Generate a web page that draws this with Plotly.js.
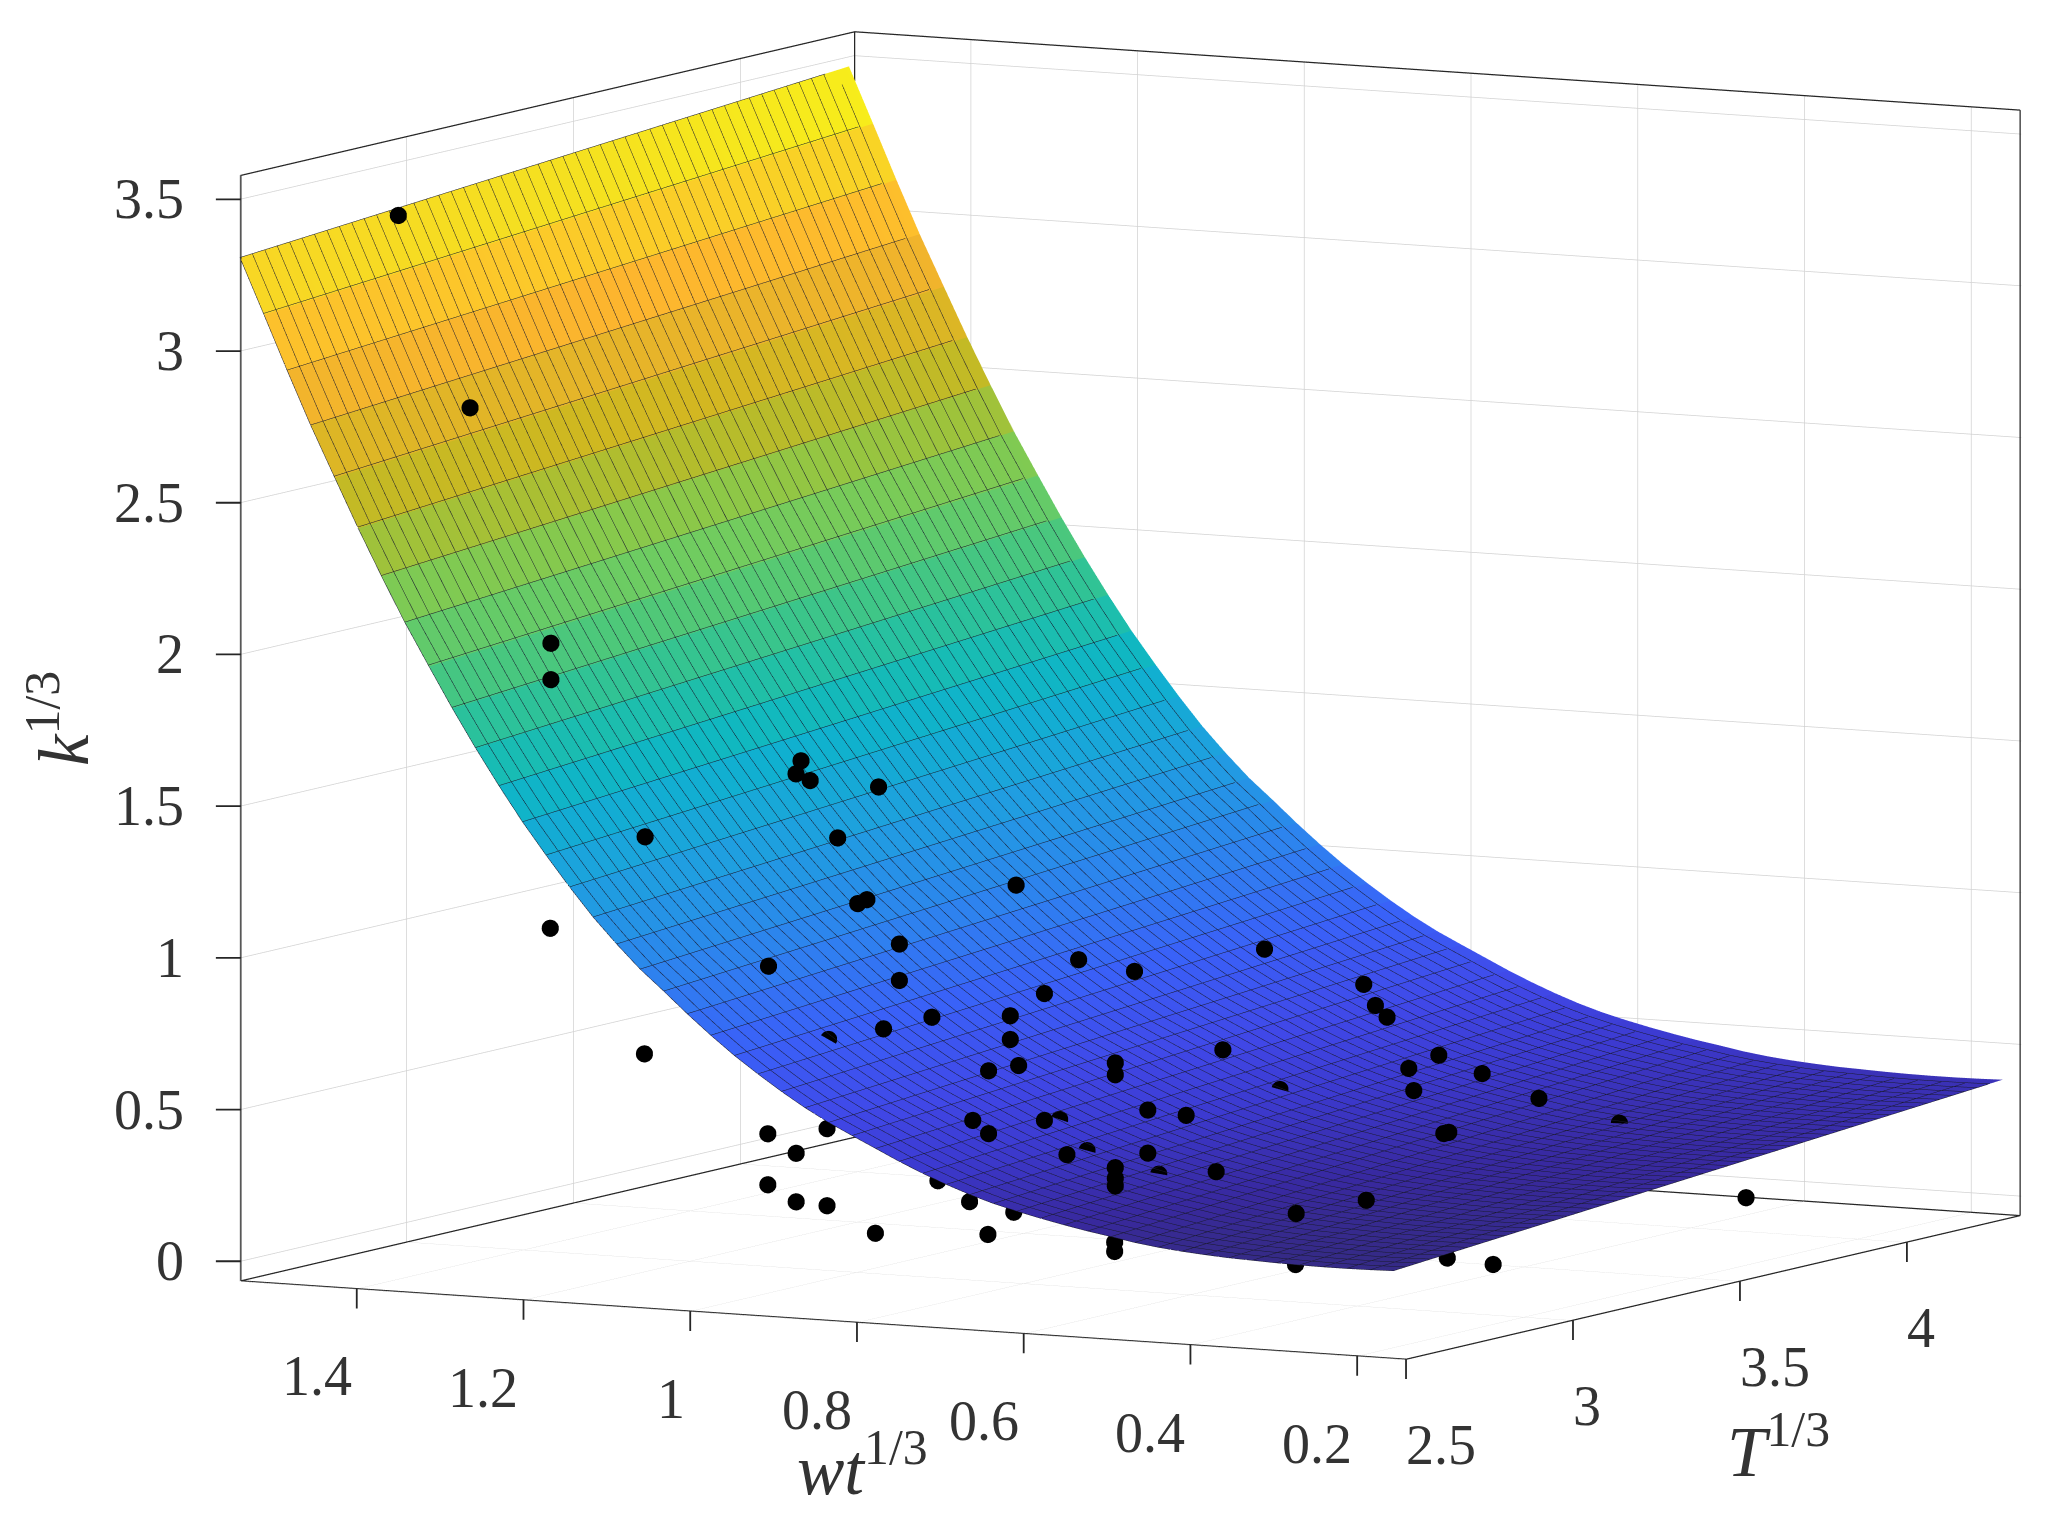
<!DOCTYPE html>
<html>
<head>
<meta charset="utf-8">
<script src="https://cdn.plot.ly/plotly-3.0.1.min.js"></script>
<style>body{margin:0;background:#fff}#chart{width:2048px;height:1525px}</style>
</head>
<body>
<div id="chart"></div>
<script>
// surface, one row per wt^(1/3) mesh line
const surfWt = [0.156,0.184,0.212,0.241,0.269,0.297,0.325,0.354,0.382,0.410,0.438,0.467,0.495,0.523,0.551,0.580,0.608,0.636,0.664,0.693,0.721,0.749,0.777,0.805,0.834,0.862,0.890,0.918,0.947,0.975,1.003,1.031,1.060,1.088,1.116,1.144,1.172,1.201,1.229,1.257,1.285,1.313,1.342,1.370,1.398,1.426,1.455,1.483,1.511,1.540];
const surfKLowT = [0.225,0.223,0.222,0.222,0.223,0.225,0.228,0.231,0.236,0.242,0.250,0.261,0.275,0.288,0.303,0.320,0.338,0.358,0.382,0.411,0.442,0.476,0.513,0.550,0.589,0.632,0.680,0.732,0.789,0.850,0.915,0.984,1.053,1.130,1.213,1.306,1.405,1.512,1.625,1.744,1.870,2.003,2.143,2.290,2.443,2.604,2.772,2.946,3.126,3.310];
const surfKHighT = [0.385,0.383,0.382,0.382,0.383,0.385,0.388,0.391,0.396,0.402,0.410,0.421,0.435,0.448,0.463,0.480,0.498,0.518,0.542,0.571,0.602,0.636,0.673,0.710,0.749,0.792,0.840,0.892,0.949,1.010,1.075,1.144,1.213,1.290,1.373,1.466,1.565,1.672,1.785,1.904,2.030,2.163,2.303,2.450,2.603,2.764,2.932,3.106,3.286,3.470];
const surfT = [2.5, 4.324];

// measured points
const ptT = [2.6,2.6,2.6,2.6,2.6,3.0,3.0,2.6,2.6,2.6,2.6,2.6,2.6,2.6,2.6,2.6,2.6,2.6,2.6,2.6,2.6,2.6,2.6,2.6,2.6,2.6,2.6,2.6,2.6,2.6,2.7,2.6,2.8,2.6,2.6,2.6,2.6,2.6,2.95,2.6,2.6,2.6,2.6,2.6,2.7,2.7,2.6,2.6,2.6,2.6,2.6,2.6,2.6,2.6,3.0,3.0,3.0,3.0,3.0,3.0,3.0,3.0,3.0,3.0,3.0,3.0,3.0,3.0,3.0,3.0,3.7,2.745,2.95,2.88,2.89,3.46,3.75];
const ptWt = [1.390,1.304,1.207,1.207,1.094,1.368,1.255,0.907,0.913,0.896,0.814,0.863,0.839,0.828,0.649,0.789,0.946,0.789,0.574,0.507,0.351,0.750,0.808,0.656,0.615,0.232,0.218,0.204,0.656,0.401,0.182,0.178,0.170,0.682,0.646,0.530,0.530,0.172,0.162,0.491,0.445,0.701,0.682,0.615,0.176,0.170,0.588,0.491,0.530,0.530,0.530,0.409,0.229,0.313,1.107,1.036,1.073,1.107,1.073,1.036,0.978,0.843,0.865,0.903,0.812,0.691,0.691,0.474,0.292,0.237,0.214,0.932,0.737,0.676,0.594,0.677,0.386];
const ptK = [3.450,2.832,2.074,1.954,1.457,1.002,0.609,1.742,1.698,1.679,1.673,1.496,1.284,1.299,1.380,1.160,1.058,1.040,1.148,1.122,1.224,0.926,0.877,0.948,1.029,1.130,1.063,1.027,0.870,0.883,0.880,0.863,0.796,0.762,0.786,0.816,0.777,0.791,0.677,0.668,0.659,0.595,0.555,0.611,0.623,0.628,0.503,0.526,0.471,0.436,0.411,0.480,0.419,0.360,0.373,0.403,0.315,0.205,0.155,0.149,0.069,0.090,0.194,0.256,0.169,0.092,0.062,0.059,0.114,0.103,0.147,0.782,0.502,0.428,0.363,0.480,0.348];

const rangeT = [2.5, 4.34];
const rangeWt = [0.14, 1.54];
const rangeK = [-0.065, 3.58];
const tickT = [2.5,3,3.5,4];
const tickWt = [0.2,0.4,0.6,0.8,1,1.2,1.4];
const tickK = [0,0.5,1,1.5,2,2.5,3,3.5];

// parula as it comes out in the picture
const parula = [[0,"#352a87"],[0.023,"#38299f"],[0.07,"#3c3ad0"],[0.115,"#4048e8"],[0.177,"#3a60f8"],[0.24,"#2f80f0"],[0.33,"#1f9fe0"],[0.40,"#10b0d0"],[0.433,"#10b8c0"],[0.47,"#20bfa8"],[0.507,"#35c490"],[0.547,"#50c878"],[0.593,"#70cc60"],[0.64,"#8cc848"],[0.686,"#b4bc2c"],[0.73,"#d0b820"],[0.787,"#e8b42a"],[0.84,"#fdb52e"],[0.886,"#fcc82a"],[0.948,"#f5e020"],[1,"#f9fb15"]];

// each mesh row gets a flat colour, so every row is doubled with a tiny gap
const y = [], zRows = [], colorRows = [];
surfWt.forEach((w,i) => {
  if (i === surfWt.length-1) return;
  const w2 = surfWt[i+1];
  y.push(w, w2-0.0002);
  const lo2 = surfKLowT[i+1], hi2 = surfKHighT[i+1];
  zRows.push([surfKLowT[i],surfKHighT[i]], [lo2-(lo2-surfKLowT[i])*0.007, hi2-(hi2-surfKHighT[i])*0.007]);
  const c = [(surfKLowT[i]+lo2)/2, (surfKHighT[i]+hi2)/2];
  colorRows.push(c, c);
});

const surface = {
  type:"surface", x:surfT, y:y, z:zRows, surfacecolor:colorRows,
  colorscale:parula, cmin:0.225, cmax:3.47, showscale:false, hoverinfo:"skip",
  lighting:{ambient:1,diffuse:0,specular:0,roughness:1,fresnel:0},
  contours:{
    x:{show:true,start:2.5,end:4.33,size:0.0372,color:"rgb(25,25,45)",width:1},
    y:{show:true,start:0.156,end:1.54,size:0.02824,color:"rgb(25,25,45)",width:1},
    z:{show:false}
  }
};

const points = {
  type:"scatter3d", mode:"markers", x:ptT, y:ptWt, z:ptK,
  marker:{size:10,color:"#000",line:{width:0}}, hoverinfo:"skip"
};

// box edges MATLAB draws with box on, pulled in a hair or the scene clips them
const inset = 0.001;
const t0 = rangeT[0]+inset, t1 = rangeT[1]-inset;
const w0 = rangeWt[0]+inset, w1 = rangeWt[1]-inset;
const k0 = rangeK[0]+inset, k1 = rangeK[1]-inset;
const frame = {
  type:"scatter3d", mode:"lines", hoverinfo:"skip",
  x:[t0,t0,t1,null,t0,t1,t1,null,t0,t0,t1,t1,null,t1,t1,null,t1,t1],
  y:[w1,w0,w0,null,w1,w1,w0,null,w1,w1,w1,w0,null,w0,w0,null,w1,w1],
  z:[k0,k0,k0,null,k0,k0,k0,null,k0,k1,k1,k1,null,k0,k1,null,k0,k1],
  line:{color:"#262626",width:2.5}
};

function axis(range, ticks){
  return {
    range:range, autorange:false, tickmode:"array", tickvals:ticks,
    showgrid:true, gridcolor:"#d2d2d2", gridwidth:1.5, zeroline:false, showline:false,
    showbackground:false, showspikes:false, ticks:"", showticklabels:false, title:{text:""}
  };
}

// tick marks and labels hang off the 3d anchors as scene annotations
const tickFont = {family:"Liberation Serif",size:56,color:"#333"};
function tickMark(x,y,z,ax,ay){
  return {x:x,y:y,z:z,text:" ",showarrow:true,arrowhead:0,arrowwidth:1.8,arrowcolor:"#262626",ax:ax,ay:ay,standoff:0};
}
function tickLabel(x,y,z,val,xanchor,xshift,yshift){
  return {x:x,y:y,z:z,text:String(val),showarrow:false,xanchor:xanchor,yanchor:"middle",xshift:xshift,yshift:yshift,font:tickFont};
}
const sceneNotes = [];
tickWt.forEach(v => {
  sceneNotes.push(tickMark(t0,v,k0,0,30), tickLabel(t0,v,k0,v,"right",-3,-88));
});
tickT.forEach(v => {
  sceneNotes.push(tickMark(v,w0,k0,0,30), tickLabel(v,w0,k0,v,"left",-2,-86));
});
tickK.forEach(v => {
  sceneNotes.push(tickMark(t0,w1,v,-28,0), tickLabel(t0,w1,v,v,"right",-55,0));
});

const titleFont = {family:"Liberation Serif",size:71,color:"#333"};
const r = 4;
const layout = {
  width:2048, height:1525, margin:{l:0,r:0,t:0,b:0}, paper_bgcolor:"#fff", showlegend:false,
  scene:{
    domain:{x:[0.104,1],y:[0.088,1]},
    xaxis:axis(rangeT,tickT), yaxis:axis(rangeWt,tickWt), zaxis:axis(rangeK,tickK),
    aspectmode:"manual", aspectratio:{x:1.87,y:1.904,z:1.603},
    camera:{projection:{type:"orthographic"},up:{x:0,y:0,z:1},center:{x:0,y:0,z:0},
      eye:{x:-0.875*r,y:-0.469*r,z:0.1255*r}},
    annotations:sceneNotes
  },
  annotations:[
    {text:"<i>k</i><sup>1/3</sup>",xref:"paper",yref:"paper",x:45/1568,y:1-550/1168,xanchor:"center",yanchor:"middle",showarrow:false,textangle:-90,font:titleFont},
    {text:"<i>wt</i><sup>1/3</sup>",xref:"paper",yref:"paper",x:660/1568,y:1-1122/1168,xanchor:"center",yanchor:"middle",showarrow:false,font:titleFont},
    {text:"<i>T</i><sup>1/3</sup>",xref:"paper",yref:"paper",x:1362/1568,y:1-1108/1168,xanchor:"center",yanchor:"middle",showarrow:false,font:titleFont}
  ]
};

Plotly.newPlot("chart",[surface,points,frame],layout,{displayModeBar:false});
</script>
</body>
</html>
